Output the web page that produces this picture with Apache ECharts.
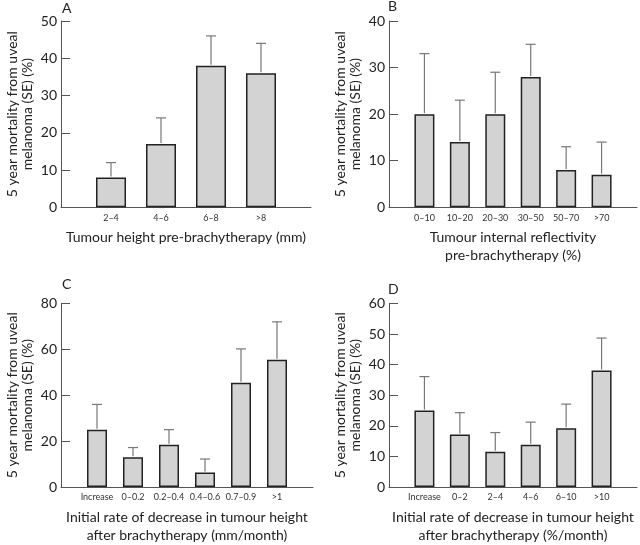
<!DOCTYPE html>
<html>
<head>
<meta charset="utf-8">
<script src="https://cdn.jsdelivr.net/npm/echarts@6/dist/echarts.min.js"></script>
<style>html,body{margin:0;padding:0;background:#fff}#c{width:640px;height:545px}</style>
</head>
<body>
<div id="c"></div>
<script>
// Panel A
const catsA = ['2–4', '4–6', '6–8', '>8'];
const valsA = [8, 17, 38, 36];
const errA = [12, 24, 46, 44];
// Panel B
const catsB = ['0–10', '10–20', '20–30', '30–50', '50–70', '>70'];
const valsB = [20, 14, 20, 28, 8, 7];
const errB = [33, 23, 29, 35, 13, 14];
// Panel C
const catsC = ['Increase', '0–0.2', '0.2–0.4', '0.4–0.6', '0.7–0.9', '>1'];
const valsC = [25, 13, 18.4, 6.3, 45.5, 55.5];
const errC = [36, 17.2, 25, 12.2, 60.2, 72];
// Panel D
const catsD = ['Increase', '0–2', '2–4', '4–6', '6–10', '>10'];
const valsD = [25, 17.2, 11.5, 13.8, 19.2, 38.1];
const errD = [36.1, 24.3, 17.8, 21.2, 27.1, 48.7];

const yName = '5 year mortality from uveal\nmelanoma (SE) (%)';
const xNames = [
  'Tumour height pre-brachytherapy (mm)',
  'Tumour internal reflectivity\npre-brachytherapy (%)',
  'Initial rate of decrease in tumour height\nafter brachytherapy (mm/month)',
  'Initial rate of decrease in tumour height\nafter brachytherapy (%/month)'
];
const letters = ['A', 'B', 'C', 'D'];
const yMax = [50, 40, 80, 60];
const yInt = [10, 10, 20, 10];

const panels = [
  {cats: catsA, vals: valsA, err: errA, grid: {left: 61, width: 250, top: 21, height: 186.3}, barW: 30},
  {cats: catsB, vals: valsB, err: errB, grid: {left: 389, width: 252, top: 21, height: 186.3}, barW: 20},
  {cats: catsC, vals: valsC, err: errC, grid: {left: 61, width: 252, top: 303.5, height: 185.8}, barW: 20},
  {cats: catsD, vals: valsD, err: errD, grid: {left: 389, width: 252, top: 303.5, height: 185.8}, barW: 20}
];
const letterPos = [[62, 1], [388, -1], [62, 277], [388, 282]];

const FONT = 'Lato';
const grid = [], xAxis = [], yAxis = [], series = [], title = [];
panels.forEach((p, k) => {
  grid.push(Object.assign({containLabel: false}, p.grid));
  xAxis.push({
    type: 'category', gridIndex: k, boundaryGap: false,
    data: [''].concat(p.cats, ['']),
    axisLine: {lineStyle: {color: '#555', width: 1}},
    axisTick: {show: false},
    axisLabel: {interval: 0, fontSize: 9, color: '#333', fontFamily: FONT, margin: 6},
    name: xNames[k], nameLocation: 'middle', nameGap: 21,
    nameTextStyle: {fontSize: 14, color: '#222', fontFamily: FONT, lineHeight: 18}
  });
  yAxis.push({
    type: 'value', gridIndex: k, min: 0, max: yMax[k], interval: yInt[k],
    axisLine: {show: true, lineStyle: {color: '#555', width: 1}},
    axisTick: {show: true, inside: true, length: 9, lineStyle: {color: '#555'}},
    splitLine: {show: false},
    axisLabel: {fontSize: 14, color: '#222', fontFamily: FONT, margin: 4},
    name: yName, nameLocation: 'middle', nameGap: 26,
    nameTextStyle: {fontSize: 14, color: '#222', fontFamily: FONT, lineHeight: 15}
  });
  series.push({
    type: 'bar', xAxisIndex: k, yAxisIndex: k, barWidth: p.barW,
    data: ['-'].concat(p.vals, ['-']),
    itemStyle: {color: '#d3d3d3', borderColor: '#222', borderWidth: 1.5},
    silent: true, animation: false
  });
  series.push({
    type: 'custom', xAxisIndex: k, yAxisIndex: k, animation: false, silent: true,
    data: p.vals.map((v, i) => [i + 1, v, p.err[i]]),
    renderItem: function (params, api) {
      const a = api.coord([api.value(0), api.value(1)]);
      const b = api.coord([api.value(0), api.value(2)]);
      const st = {stroke: '#777', lineWidth: 1.2};
      return {type: 'group', children: [
        {type: 'line', shape: {x1: a[0], y1: a[1] - 1, x2: b[0], y2: b[1]}, style: st},
        {type: 'line', shape: {x1: b[0] - 5, y1: b[1], x2: b[0] + 5, y2: b[1]}, style: st}
      ]};
    }
  });
  title.push({
    text: letters[k], left: letterPos[k][0], top: letterPos[k][1],
    textStyle: {fontSize: 14, fontWeight: 'normal', color: '#222', fontFamily: FONT},
    padding: 0
  });
});

const chart = echarts.init(document.getElementById('c'), null, {renderer: 'canvas'});
chart.setOption({animation: false, title, grid, xAxis, yAxis, series});
</script>
</body>
</html>
